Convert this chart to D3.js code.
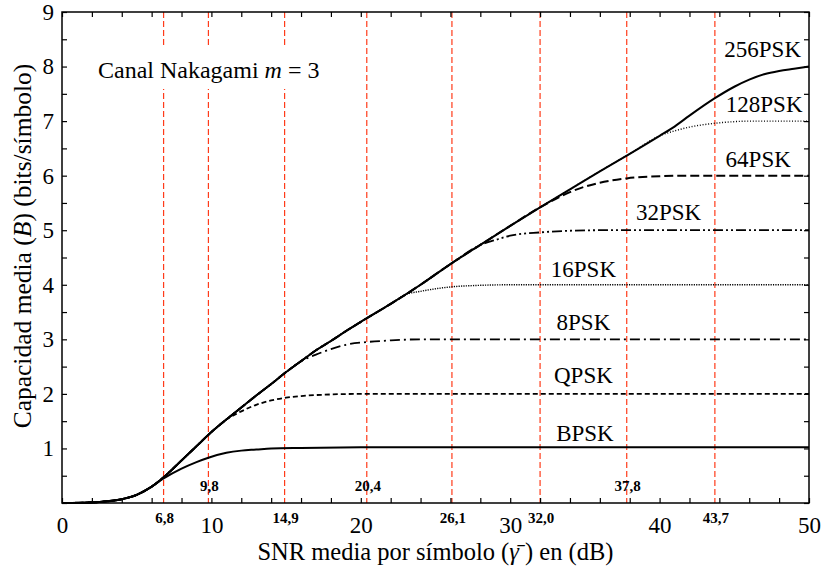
<!DOCTYPE html>
<html>
<head>
<meta charset="utf-8">
<script src="https://cdn.jsdelivr.net/npm/d3@7"></script>
<style>
  body { margin: 0; background: #fff; }
  svg text { font-family: "Liberation Serif", "Tinos", "Times New Roman", serif; fill: #000; }
</style>
</head>
<body>
<svg width="822" height="574"></svg>
<script>
var svg = d3.select("svg");

// envelope (256PSK)
var envSnr = [0, 2, 3, 4, 5, 6, 7, 8, 9, 10, 11, 12, 13, 14, 15, 16, 17, 18, 19, 20, 22, 24, 26, 28, 30, 32, 34, 36, 38, 40, 41, 42, 43.7, 45, 46, 47, 48, 49, 50];
var envCap = [0, 0.01, 0.03, 0.07, 0.15, 0.3, 0.52, 0.78, 1.04, 1.3, 1.53, 1.75, 1.97, 2.18, 2.4, 2.6, 2.8, 2.97, 3.15, 3.32, 3.65, 4.0, 4.38, 4.73, 5.08, 5.42, 5.75, 6.08, 6.4, 6.73, 6.9, 7.1, 7.42, 7.63, 7.76, 7.86, 7.92, 7.96, 8.0];

var names = ["BPSK", "QPSK", "8PSK", "16PSK", "32PSK", "64PSK", "128PSK"];
// point where each curve leaves the envelope
var splitSnr = [6, 11, 16.6, 22.6, 28.2, 33.8, 40];
var tailSnr = [
  [6.8, 8, 9, 9.8, 11, 12, 13, 14, 16, 20, 50],
  [12, 13, 14, 15, 16, 18, 20, 50],
  [17, 18, 19, 20.4, 22, 24, 50],
  [23, 24, 26, 28, 30, 50],
  [29, 30, 32, 34, 36, 50],
  [35, 36, 37.8, 40, 42, 50],
  [41, 42, 43.7, 45, 46, 50]
];
var tailCap = [
  [0.45, 0.63, 0.75, 0.83, 0.92, 0.96, 0.98, 1.0, 1.01, 1.02, 1.02],
  [1.68, 1.8, 1.88, 1.93, 1.96, 1.99, 2.0, 2.0],
  [2.72, 2.82, 2.9, 2.95, 2.98, 3.0, 3.0],
  [3.82, 3.88, 3.96, 3.99, 4.0, 4.0],
  [4.82, 4.9, 4.96, 4.99, 5.0, 5.0],
  [5.8, 5.87, 5.95, 5.99, 6.0, 6.0],
  [6.82, 6.89, 6.96, 6.99, 7.0, 7.0]
];
var dashes = ["none", "5,3", "10,4,2,4", "1.2,1.2", "10,3,2,3,2,3", "9,4", "1,1.8"];
var widths = [2, 1.8, 1.8, 1.4, 1.8, 2, 1.4];

var curveLabels = ["BPSK", "QPSK", "8PSK", "16PSK", "32PSK", "64PSK", "128PSK", "256PSK"];
var labelSnr = [35.0, 34.9, 34.9, 34.9, 40.6, 46.6, 47.0, 46.9];
var labelCap = [1.14, 2.2, 3.17, 4.14, 5.18, 6.16, 7.17, 8.17];

var marks = [6.8, 9.8, 14.9, 20.4, 26.1, 32.0, 37.8, 43.7];
var markText = ["6,8", "9,8", "14,9", "20,4", "26,1", "32,0", "37,8", "43,7"];
var markBelow = [true, false, true, false, true, true, false, true];

var margin = {left: 62, right: 13, top: 12, bottom: 71},
    width = 822 - margin.left - margin.right,
    height = 574 - margin.top - margin.bottom;

var x = d3.scaleLinear().domain([0, 50]).range([0, width]);
var y = d3.scaleLinear().domain([0, 9]).range([height, 0]);

var g = svg.append("g").attr("transform", "translate(" + margin.left + "," + margin.top + ")");

// vertical reference lines
g.selectAll(".mark")
  .data(marks)
  .enter().append("line")
    .attr("x1", function(d) { return x(d); })
    .attr("x2", function(d) { return x(d); })
    .attr("y1", 0)
    .attr("y2", height)
    .attr("stroke", "#ff3b1a")
    .attr("stroke-width", 1.2)
    .attr("stroke-dasharray", "6,3");

// label box
var note = g.append("g").attr("transform", "translate(" + 36 + "," + 66 + ")");
note.append("rect").attr("x", -4).attr("y", -31).attr("width", 232).attr("height", 42).attr("fill", "#fff");
var nt = note.append("text").attr("font-size", 24);
nt.append("tspan").text("Canal Nakagami ");
nt.append("tspan").attr("font-style", "italic").text("m");
nt.append("tspan").text(" = 3");

var line = d3.line()
  .x(function(d) { return x(d[0]); })
  .y(function(d) { return y(d[1]); })
  .curve(d3.curveMonotoneX);

names.forEach(function(n, i) {
  var pts = [];
  envSnr.forEach(function(s, j) { if (s <= splitSnr[i]) pts.push([s, envCap[j]]); });
  tailSnr[i].forEach(function(s, j) { pts.push([s, tailCap[i][j]]); });
  g.append("path")
    .datum(pts)
    .attr("fill", "none")
    .attr("stroke", "#000")
    .attr("stroke-width", widths[i])
    .attr("stroke-dasharray", dashes[i])
    .attr("d", line);
});

g.append("path")
  .datum(envSnr.map(function(s, j) { return [s, envCap[j]]; }))
  .attr("fill", "none")
  .attr("stroke", "#000")
  .attr("stroke-width", 2)
  .attr("d", line);

// curve labels
g.selectAll(".clab")
  .data(curveLabels)
  .enter().append("text")
    .attr("x", function(d, i) { return x(labelSnr[i]); })
    .attr("y", function(d, i) { return y(labelCap[i]); })
    .attr("text-anchor", "middle")
    .attr("font-size", 23)
    .text(function(d) { return d; });

// mark labels
g.selectAll(".mlab")
  .data(markText)
  .enter().append("text")
    .attr("x", function(d, i) { return x(marks[i]) + 1; })
    .attr("y", function(d, i) { return markBelow[i] ? height + 20 : height - 12; })
    .attr("text-anchor", "middle")
    .attr("font-size", 15)
    .attr("font-weight", "bold")
    .text(function(d) { return d; });

// axes with inside ticks
function tickAxis(axis, sel) {
  sel.call(axis);
  sel.select(".domain").remove();
  sel.selectAll("line").attr("stroke", "#000").attr("stroke-width", 1.2);
}
var xMinor = d3.range(0, 51, 2);
tickAxis(d3.axisBottom(x).tickValues(xMinor).tickSize(-5).tickFormat(""), g.append("g").attr("transform", "translate(0," + height + ")"));
tickAxis(d3.axisTop(x).tickValues(xMinor).tickSize(-5).tickFormat(""), g.append("g"));
var yMinor = d3.range(0, 9.01, 0.5);
tickAxis(d3.axisLeft(y).tickValues(yMinor).tickSize(-5).tickFormat(""), g.append("g"));
tickAxis(d3.axisRight(y).tickValues(yMinor).tickSize(-5).tickFormat(""), g.append("g").attr("transform", "translate(" + width + ",0)"));

var xAx = g.append("g").attr("transform", "translate(0," + height + ")")
  .call(d3.axisBottom(x).tickValues([0, 10, 20, 30, 40, 50]).tickSize(0));
xAx.select(".domain").remove();
xAx.selectAll("text").attr("font-size", 23).attr("y", 30).attr("dy", 0);

var yAx = g.append("g")
  .call(d3.axisLeft(y).tickValues(d3.range(1, 10)).tickSize(0).tickPadding(8));
yAx.select(".domain").remove();
yAx.selectAll("text").attr("font-size", 23);

g.append("rect")
  .attr("width", width).attr("height", height)
  .attr("fill", "none").attr("stroke", "#000").attr("stroke-width", 1.5);

// axis titles
var xt = svg.append("text").attr("x", margin.left + width / 2).attr("y", 560)
  .attr("text-anchor", "middle").attr("font-size", 24.5);
xt.append("tspan").text("SNR media por símbolo (");
xt.append("tspan").attr("font-style", "italic").text("γ\u0304");
xt.append("tspan").text(" ) en (dB)");

var yt = svg.append("text").attr("transform", "translate(31,246) rotate(-90)")
  .attr("text-anchor", "middle").attr("font-size", 25.5);
yt.append("tspan").text("Capacidad media  (");
yt.append("tspan").attr("font-style", "italic").text("B");
yt.append("tspan").text(")  (bits/símbolo)");
</script>
</body>
</html>
